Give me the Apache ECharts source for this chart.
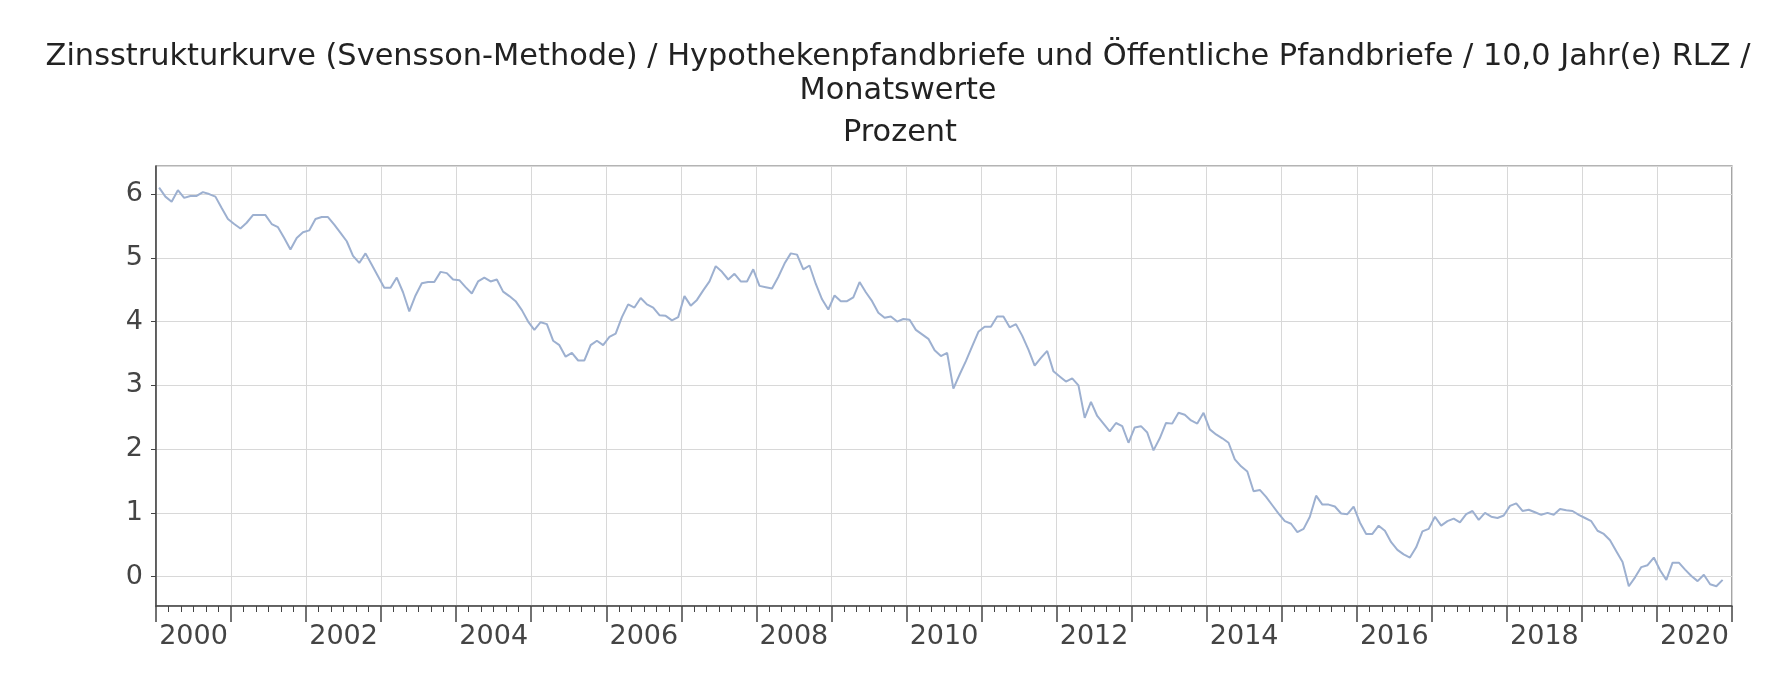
<!DOCTYPE html>
<html>
<head>
<meta charset="utf-8">
<script src="https://cdn.jsdelivr.net/npm/echarts@6/dist/echarts.min.js"></script>
<style>
html,body{margin:0;padding:0;background:#fff;}
#chart{width:1786px;height:696px;}
</style>
</head>
<body>
<div id="chart"></div>
<script>
// Title texts
var titleLines = ['Zinsstrukturkurve (Svensson-Methode) / Hypothekenpfandbriefe und Öffentliche Pfandbriefe / 10,0 Jahr(e) RLZ /', 'Monatswerte'];
var unitLabel = 'Prozent';

// Year categories for the label axis (one band per year)
var years = ['2000','2001','2002','2003','2004','2005','2006','2007','2008','2009','2010',
             '2011','2012','2013','2014','2015','2016','2017','2018','2019','2020'];

// Monthly values, Jan 2000 .. Nov 2020 (percent)
var values2000_2004 = [6.10,5.96,5.88,6.06,5.94,5.97,5.97,6.03,6.00,5.96,5.78,5.61,
                       5.53,5.46,5.55,5.67,5.67,5.67,5.53,5.48,5.31,5.13,5.31,5.40,
                       5.43,5.61,5.64,5.64,5.52,5.39,5.26,5.03,4.92,5.07,4.89,4.71,
                       4.53,4.53,4.69,4.46,4.16,4.41,4.60,4.62,4.62,4.78,4.76,4.66,
                       4.65,4.54,4.44,4.63,4.69,4.63,4.66,4.47,4.40,4.32,4.18,4.00];
var values2005_2009 = [3.87,3.99,3.96,3.70,3.63,3.45,3.51,3.39,3.39,3.63,3.70,3.63,
                       3.76,3.81,4.07,4.27,4.22,4.37,4.27,4.22,4.10,4.09,4.02,4.07,
                       4.40,4.25,4.34,4.49,4.63,4.87,4.78,4.66,4.75,4.63,4.63,4.82,
                       4.56,4.54,4.52,4.70,4.91,5.07,5.05,4.82,4.88,4.59,4.35,4.19,
                       4.41,4.32,4.32,4.38,4.62,4.46,4.32,4.14,4.06,4.08,4.00,4.04];
var values2010_2014 = [4.03,3.87,3.80,3.73,3.55,3.46,3.51,2.95,3.17,3.38,3.61,3.84,
                       3.92,3.92,4.08,4.08,3.91,3.96,3.78,3.56,3.31,3.43,3.54,3.22,
                       3.14,3.06,3.11,3.00,2.49,2.74,2.52,2.40,2.28,2.41,2.36,2.10,
                       2.34,2.36,2.26,1.98,2.17,2.41,2.40,2.57,2.54,2.45,2.40,2.57,
                       2.31,2.23,2.17,2.10,1.84,1.73,1.65,1.34,1.36,1.25,1.12,0.99];
var values2015_2020 = [0.87,0.83,0.70,0.75,0.94,1.27,1.13,1.13,1.10,0.99,0.98,1.10,
                       0.85,0.67,0.67,0.80,0.72,0.54,0.42,0.35,0.30,0.46,0.71,0.75,
                       0.94,0.80,0.87,0.91,0.85,0.98,1.03,0.89,1.00,0.94,0.92,0.96,
                       1.11,1.15,1.03,1.05,1.01,0.97,1.00,0.97,1.06,1.04,1.03,0.97,
                       0.92,0.87,0.72,0.67,0.57,0.40,0.23,-0.15,-0.01,0.15,0.18,0.30,
                       0.10,-0.05,0.22,0.22,0.11,0.01,-0.07,0.03,-0.12,-0.15,-0.05];

var allValues = values2000_2004.concat(values2005_2009, values2010_2014, values2015_2020);
// x = months since Jan 2000, each value placed mid-month
var seriesData = allValues.map(function (v, i) { return [i + 0.5, v]; });

var FONT = 'DejaVu Sans';
var chart = echarts.init(document.getElementById('chart'), null, {renderer: 'canvas'});
chart.setOption({
  animation: false,
  backgroundColor: '#ffffff',
  title: [
    {
      text: titleLines.join('\n'),
      left: 893,
      textAlign: 'center',
      top: 35,
      textStyle: {fontFamily: FONT, fontSize: 30.4, fontWeight: 'normal', color: '#222', lineHeight: 34}
    },
    {
      text: unitLabel,
      left: 895,
      textAlign: 'center',
      top: 111,
      textStyle: {fontFamily: FONT, fontSize: 30.4, fontWeight: 'normal', color: '#222', lineHeight: 34}
    }
  ],
  grid: {
    left: 156, right: 54, top: 166, bottom: 90,
    show: true, borderColor: '#6a6a6a', borderWidth: 1.2, backgroundColor: 'transparent'
  },
  xAxis: [
    {
      type: 'value',
      min: 0, max: 252, interval: 12,
      position: 'bottom',
      axisLine: {show: true, onZero: false, lineStyle: {color: '#444', width: 1.5}},
      axisTick: {show: false},
      axisLabel: {show: false},
      minorTick: {show: true, splitNumber: 6, length: 6, lineStyle: {color: '#444', width: 1}},
      splitLine: {show: true, lineStyle: {color: '#d8d8d8', width: 1}}
    },
    {
      type: 'category',
      data: years,
      boundaryGap: true,
      position: 'bottom',
      axisLine: {show: false, onZero: false},
      axisTick: {show: true, interval: 0, length: 16, alignWithLabel: false, lineStyle: {color: '#444', width: 1.5}},
      axisLabel: {show: true, interval: 1, margin: 17, fontFamily: FONT, fontSize: 27, color: '#444'},
      splitLine: {show: false}
    }
  ],
  yAxis: {
    type: 'value',
    min: -0.46, max: 6.44, splitNumber: 6,
    axisLine: {show: true, onZero: false, lineStyle: {color: '#444', width: 1.5}},
    axisTick: {show: true, length: 5, lineStyle: {color: '#444'}},
    axisLabel: {show: true, showMinLabel: false, showMaxLabel: false, margin: 13, fontFamily: FONT, fontSize: 27, color: '#444'},
    splitLine: {show: true, lineStyle: {color: '#d8d8d8', width: 1}}
  },
  series: [{
    type: 'line',
    xAxisIndex: 0,
    data: seriesData,
    showSymbol: false,
    symbol: 'none',
    lineStyle: {color: '#9db0d0', width: 2},
    clip: true
  }]
});
</script>
</body>
</html>
